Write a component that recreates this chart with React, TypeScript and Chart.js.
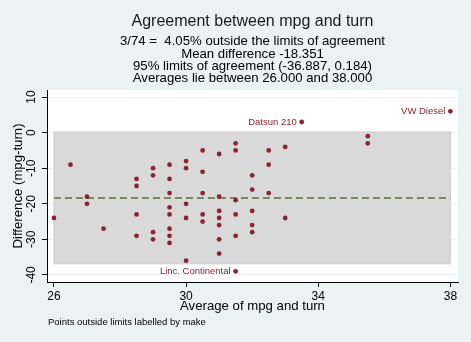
import React, { useEffect, useRef } from "react";
import { Chart, registerables } from "chart.js";

Chart.register(...registerables);

const titleText = "Agreement between mpg and turn";
const subtitleLines = [
  "3/74 =  4.05% outside the limits of agreement",
  "Mean difference -18.351",
  "95% limits of agreement (-36.887, 0.184)",
  "Averages lie between 26.000 and 38.000",
];
const xAxisTitle = "Average of mpg and turn";
const yAxisTitle = "Difference (mpg-turn)";
const noteText = "Points outside limits labelled by make";

const xTickValues = [26, 30, 34, 38];
const yTickValues = [-40, -30, -20, -10, 0, 10];

// Average of mpg and turn (within limits)
const avgValues = [
  26,
  26.5,
  27, 27,
  27.5,
  28.5, 28.5, 28.5, 28.5,
  29, 29, 29, 29,
  29.5, 29.5, 29.5, 29.5, 29.5, 29.5, 29.5, 29.5,
  30, 30, 30, 30, 30,
  30.5, 30.5, 30.5, 30.5, 30.5,
  31, 31, 31, 31, 31, 31, 31,
  31.5, 31.5, 31.5, 31.5, 31.5,
  32, 32, 32, 32, 32,
  32.5, 32.5, 32.5,
  33, 33,
  35.5, 35.5,
];
// Difference mpg - turn (within limits)
const diffValues = [
  -24,
  -9,
  -18, -20,
  -27,
  -13, -15, -23, -29,
  -10, -12, -28, -30,
  -9, -13, -17, -21, -23, -27, -29, -31,
  -8, -10, -20, -24, -36,
  -5, -11, -17, -23, -25,
  -6, -18, -22, -24, -26, -30, -34,
  -3, -5, -19, -23, -29,
  -12, -16, -22, -26, -28,
  -5, -9, -17,
  -4, -24,
  -1, -3,
];

const outlierAvg = [31.5, 33.5, 38];
const outlierDiff = [-39, 3, 6];
const outlierMakes = ["Linc. Continental", "Datsun 210", "VW Diesel"];

const meanDiff = -18.351;
const lowerLimit = -36.887;
const upperLimit = 0.184;
const avgRange = [26, 38];
const xRange = [25.79, 38.23];
const yRange = [-42, 12];

const FONT = "'Liberation Sans', Arial, Helvetica, sans-serif";
const MARKER = "#8b2432";
const BG = "#eaf2f3";

const bgPlugin = {
  id: "bgPlugin",
  beforeDraw(chart: any) {
    const { ctx, chartArea: a } = chart;
    ctx.save();
    ctx.fillStyle = BG;
    ctx.fillRect(0, 0, chart.width, chart.height);
    ctx.fillStyle = "#ffffff";
    ctx.fillRect(a.left, a.top, a.right - a.left, a.bottom - a.top);
    ctx.restore();
  },
};

const bandPlugin = {
  id: "bandPlugin",
  beforeDatasetsDraw(chart: any) {
    const { ctx } = chart;
    const xs = chart.scales.x;
    const ys = chart.scales.y;
    const l = xs.getPixelForValue(avgRange[0]);
    const r = xs.getPixelForValue(avgRange[1]);
    const t = ys.getPixelForValue(upperLimit);
    const b = ys.getPixelForValue(lowerLimit);
    ctx.save();
    ctx.fillStyle = "#d9d9d9";
    ctx.fillRect(l, t, r - l, b - t);
    ctx.strokeStyle = "#cccccc";
    ctx.lineWidth = 1;
    ctx.strokeRect(l, t, r - l, b - t);
    ctx.restore();
  },
};

const labelPlugin = {
  id: "labelPlugin",
  afterDatasetsDraw(chart: any) {
    const { ctx } = chart;
    const meta = chart.getDatasetMeta(1);
    ctx.save();
    ctx.font = `9.5px ${FONT}`;
    ctx.fillStyle = MARKER;
    ctx.textAlign = "right";
    ctx.textBaseline = "middle";
    meta.data.forEach((el: any, i: number) => {
      ctx.fillText(outlierMakes[i], el.x - 5, el.y);
    });
    ctx.restore();
  },
  afterDraw(chart: any) {
    const { ctx } = chart;
    ctx.save();
    ctx.font = `9.5px ${FONT}`;
    ctx.fillStyle = "#000000";
    ctx.textAlign = "left";
    ctx.textBaseline = "alphabetic";
    ctx.fillText(noteText, chart.chartArea.left + 1, 325);
    ctx.restore();
  },
};

export default function App() {
  const canvasRef = useRef<HTMLCanvasElement | null>(null);

  useEffect(() => {
    document.body.style.margin = "0";
    document.body.style.background = BG;
    const canvas = canvasRef.current;
    if (!canvas) return;

    const inPoints = avgValues.map((x, i) => ({ x, y: diffValues[i] }));
    const outPoints = outlierAvg.map((x, i) => ({ x, y: outlierDiff[i] }));
    const meanLine = avgRange.map((x) => ({ x, y: meanDiff }));

    const chart = new Chart(canvas, {
      type: "scatter",
      data: {
        datasets: [
          {
            label: "within",
            data: inPoints,
            pointRadius: 2.4,
            pointBackgroundColor: MARKER,
            pointBorderWidth: 0,
            pointBorderColor: MARKER,
          },
          {
            label: "outside",
            data: outPoints,
            pointRadius: 2.4,
            pointBackgroundColor: MARKER,
            pointBorderWidth: 0,
            pointBorderColor: MARKER,
          },
          {
            label: "mean",
            data: meanLine,
            showLine: true,
            pointRadius: 0,
            borderColor: "#5a7032",
            borderWidth: 1.5,
            borderDash: [7, 4],
          } as any,
        ],
      },
      options: {
        animation: false,
        responsive: false,
        events: [],
        layout: { padding: { top: 0, left: 0, right: 13, bottom: 0 } },
        font: { family: FONT } as any,
        plugins: {
          legend: { display: false },
          tooltip: { enabled: false },
          title: {
            display: true,
            text: titleText,
            fullSize: false,
            color: "#1a1a1a",
            font: { family: FONT, size: 16, weight: "normal", lineHeight: 1.2 },
            padding: { top: 12.2, bottom: 0 },
          },
          subtitle: {
            display: true,
            text: subtitleLines,
            fullSize: false,
            color: "#000000",
            font: { family: FONT, size: 13.2, weight: "normal", lineHeight: "12.45px" },
            padding: { top: 3.8, bottom: 5 },
          },
        },
        scales: {
          x: {
            type: "linear",
            position: "bottom",
            min: xRange[0],
            max: xRange[1],
            afterBuildTicks: (s: any) => {
              s.ticks = xTickValues.map((v) => ({ value: v }));
            },
            afterFit: (s: any) => {
              s.height = 60;
            },
            ticks: {
              color: "#000000",
              font: { family: FONT, size: 12 },
              padding: 2.3,
              maxRotation: 0,
              minRotation: 0,
              callback: (v: any) => String(v),
            },
            grid: {
              drawOnChartArea: false,
              drawTicks: true,
              tickLength: 5,
              tickColor: "#000000",
              tickWidth: 1,
            },
            border: { display: true, color: "#000000", width: 1 },
            title: {
              display: true,
              text: xAxisTitle,
              color: "#000000",
              font: { family: FONT, size: 13.2, lineHeight: 1.2 },
              padding: { top: 0, bottom: 28.2 },
            },
          },
          y: {
            type: "linear",
            position: "left",
            min: yRange[0],
            max: yRange[1],
            afterBuildTicks: (s: any) => {
              s.ticks = yTickValues.map((v) => ({ value: v }));
            },
            afterFit: (s: any) => {
              s.width = 47;
            },
            ticks: {
              color: "#000000",
              font: { family: FONT, size: 12 },
              padding: 1.3,
              minRotation: 90,
              maxRotation: 90,
              crossAlign: "center",
              callback: (v: any) => String(v),
            },
            grid: {
              color: BG,
              lineWidth: 1,
              drawOnChartArea: true,
              drawTicks: true,
              tickLength: 5,
              tickColor: "#000000",
              tickWidth: 1,
            },
            border: { display: true, color: "#000000", width: 1 },
            title: {
              display: true,
              text: yAxisTitle,
              color: "#000000",
              font: { family: FONT, size: 13.2, lineHeight: 1.2 },
              padding: { top: 10.2, bottom: 0 },
            },
          },
        },
      } as any,
      plugins: [bgPlugin, bandPlugin, labelPlugin],
    });

    return () => {
      chart.destroy();
    };
  }, []);

  return (
    <div style={{ width: 471, height: 342, background: BG }}>
      <canvas ref={canvasRef} width={471} height={342} style={{ display: "block" }} />
    </div>
  );
}
